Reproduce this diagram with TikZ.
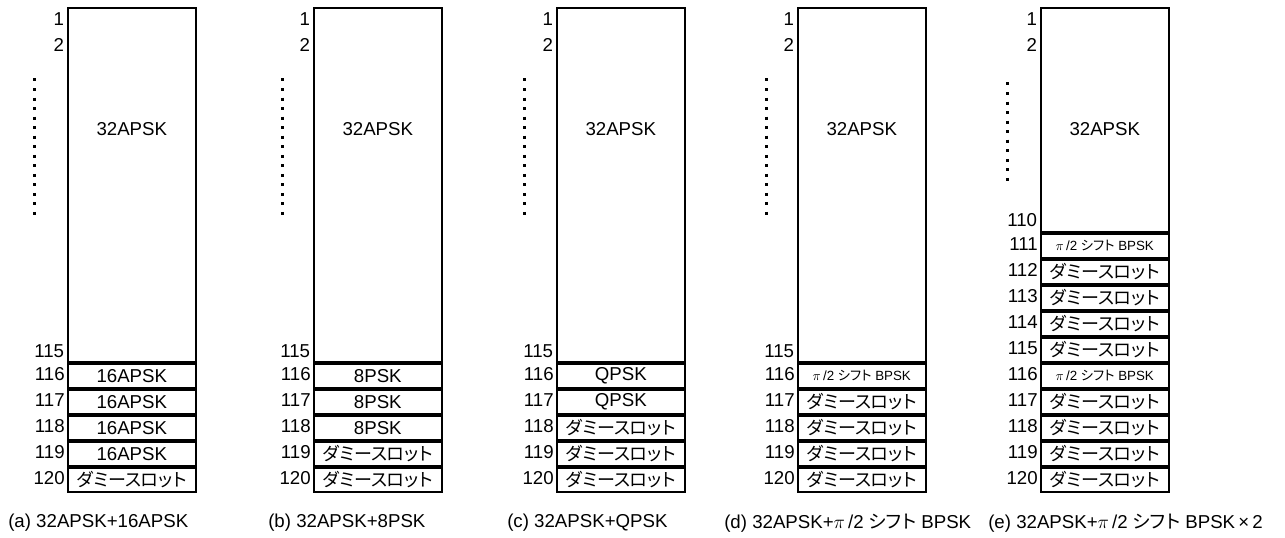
\documentclass[tikz,border=0pt]{standalone}
\usepackage{fontspec}
\setmainfont{Liberation Sans}
\newfontfamily\jp[RawFeature=+palt]{Noto Sans CJK JP}
\usetikzlibrary{positioning}
\newcommand{\dmy}{{\jp ダミースロット}}
\newcommand{\pishift}{$\pi$\,/2 {\jp シフト} BPSK}

\begin{document}
\begin{tikzpicture}[
    x=0.75pt, y=-0.75pt,
    every node/.style={inner sep=0pt, font=\fontsize{14}{16}\selectfont},
    bigbox/.style={draw, line width=1.2pt, minimum width=96pt, minimum height=265.8pt, anchor=north west},
    slot/.style={draw, line width=1.2pt, minimum width=96pt, minimum height=18.3pt},
    num/.style={anchor=east},
    dmytext/.style={font=\fontsize{13.5}{16}\selectfont},
    pitext/.style={font=\fontsize{10}{12}\selectfont},
    dots/.style={line width=2.25pt, dash pattern=on 2.25pt off 4.9pt},
    caption/.style={anchor=west, font=\fontsize{14}{16}\selectfont}
  ]
  \useasboundingbox (0,0) rectangle (1285,538);

  % (a) 32APSK+16APSK
  \node[bigbox] (a32) at (67,7) {};
  \node (a32t) at ([yshift=-91.5pt]a32.north) {32APSK};
  \node[slot, below=0pt of a32] (a116) {16APSK};
  \node[slot, below=0pt of a116] (a117) {16APSK};
  \node[slot, below=0pt of a117] (a118) {16APSK};
  \node[slot, below=0pt of a118] (a119) {16APSK};
  \node[slot, dmytext, below=0pt of a119] (a120) {\dmy};
  \node[num] (na1) at ([xshift=-2pt, yshift=-9pt]a32.north west) {1};
  \node[num] (na2) at ([xshift=-2pt, yshift=-28.5pt]a32.north west) {2};
  \node[num] (na115) at ([xshift=-2pt, yshift=9pt]a32.south west) {115};
  \node[num, left=1.5pt of a116, yshift=1.5pt] (na116) {116};
  \node[num, left=1.5pt of a117, yshift=1.5pt] (na117) {117};
  \node[num, left=1.5pt of a118, yshift=1.5pt] (na118) {118};
  \node[num, left=1.5pt of a119, yshift=1.5pt] (na119) {119};
  \node[num, left=1.5pt of a120, yshift=1.5pt] (na120) {120};
  \draw[dots] (34,78.5) -- (34,215);
  \node[caption] (capa) at (8,523) {(a) 32APSK+16APSK};

  % (b) 32APSK+8PSK
  \node[bigbox] (b32) at (313,7) {};
  \node (b32t) at ([yshift=-91.5pt]b32.north) {32APSK};
  \node[slot, below=0pt of b32] (b116) {8PSK};
  \node[slot, below=0pt of b116] (b117) {8PSK};
  \node[slot, below=0pt of b117] (b118) {8PSK};
  \node[slot, dmytext, below=0pt of b118] (b119) {\dmy};
  \node[slot, dmytext, below=0pt of b119] (b120) {\dmy};
  \node[num] (nb1) at ([xshift=-2pt, yshift=-9pt]b32.north west) {1};
  \node[num] (nb2) at ([xshift=-2pt, yshift=-28.5pt]b32.north west) {2};
  \node[num] (nb115) at ([xshift=-2pt, yshift=9pt]b32.south west) {115};
  \node[num, left=1.5pt of b116, yshift=1.5pt] (nb116) {116};
  \node[num, left=1.5pt of b117, yshift=1.5pt] (nb117) {117};
  \node[num, left=1.5pt of b118, yshift=1.5pt] (nb118) {118};
  \node[num, left=1.5pt of b119, yshift=1.5pt] (nb119) {119};
  \node[num, left=1.5pt of b120, yshift=1.5pt] (nb120) {120};
  \draw[dots] (282,78.5) -- (282,215);
  \node[caption] (capb) at (268,523) {(b) 32APSK+8PSK};

  % (c) 32APSK+QPSK
  \node[bigbox] (c32) at (556,7) {};
  \node (c32t) at ([yshift=-91.5pt]c32.north) {32APSK};
  \node[slot, below=0pt of c32] (c116) {QPSK};
  \node[slot, below=0pt of c116] (c117) {QPSK};
  \node[slot, dmytext, below=0pt of c117] (c118) {\dmy};
  \node[slot, dmytext, below=0pt of c118] (c119) {\dmy};
  \node[slot, dmytext, below=0pt of c119] (c120) {\dmy};
  \node[num] (nc1) at ([xshift=-2pt, yshift=-9pt]c32.north west) {1};
  \node[num] (nc2) at ([xshift=-2pt, yshift=-28.5pt]c32.north west) {2};
  \node[num] (nc115) at ([xshift=-2pt, yshift=9pt]c32.south west) {115};
  \node[num, left=1.5pt of c116, yshift=1.5pt] (nc116) {116};
  \node[num, left=1.5pt of c117, yshift=1.5pt] (nc117) {117};
  \node[num, left=1.5pt of c118, yshift=1.5pt] (nc118) {118};
  \node[num, left=1.5pt of c119, yshift=1.5pt] (nc119) {119};
  \node[num, left=1.5pt of c120, yshift=1.5pt] (nc120) {120};
  \draw[dots] (524,78.5) -- (524,215);
  \node[caption] (capc) at (507,523) {(c) 32APSK+QPSK};

  % (d) 32APSK+pi/2 shift BPSK
  \node[bigbox] (d32) at (797,7) {};
  \node (d32t) at ([yshift=-91.5pt]d32.north) {32APSK};
  \node[slot, pitext, below=0pt of d32] (d116) {\pishift};
  \node[slot, dmytext, below=0pt of d116] (d117) {\dmy};
  \node[slot, dmytext, below=0pt of d117] (d118) {\dmy};
  \node[slot, dmytext, below=0pt of d118] (d119) {\dmy};
  \node[slot, dmytext, below=0pt of d119] (d120) {\dmy};
  \node[num] (nd1) at ([xshift=-2pt, yshift=-9pt]d32.north west) {1};
  \node[num] (nd2) at ([xshift=-2pt, yshift=-28.5pt]d32.north west) {2};
  \node[num] (nd115) at ([xshift=-2pt, yshift=9pt]d32.south west) {115};
  \node[num, left=1.5pt of d116, yshift=1.5pt] (nd116) {116};
  \node[num, left=1.5pt of d117, yshift=1.5pt] (nd117) {117};
  \node[num, left=1.5pt of d118, yshift=1.5pt] (nd118) {118};
  \node[num, left=1.5pt of d119, yshift=1.5pt] (nd119) {119};
  \node[num, left=1.5pt of d120, yshift=1.5pt] (nd120) {120};
  \draw[dots] (766,78.5) -- (766,215);
  \node[caption] (capd) at (724,523) {(d) 32APSK+\pishift};

  % (e) 32APSK+pi/2 shift BPSK x2
  \node[bigbox, minimum height=168.3pt] (e32) at (1040,7) {};
  \node (e32t) at ([yshift=-91.5pt]e32.north) {32APSK};
  \node[slot, pitext, below=0pt of e32] (e111) {\pishift};
  \node[slot, dmytext, below=0pt of e111] (e112) {\dmy};
  \node[slot, dmytext, below=0pt of e112] (e113) {\dmy};
  \node[slot, dmytext, below=0pt of e113] (e114) {\dmy};
  \node[slot, dmytext, below=0pt of e114] (e115) {\dmy};
  \node[slot, pitext, below=0pt of e115] (e116) {\pishift};
  \node[slot, dmytext, below=0pt of e116] (e117) {\dmy};
  \node[slot, dmytext, below=0pt of e117] (e118) {\dmy};
  \node[slot, dmytext, below=0pt of e118] (e119) {\dmy};
  \node[slot, dmytext, below=0pt of e119] (e120) {\dmy};
  \node[num] (ne1) at ([xshift=-2pt, yshift=-9pt]e32.north west) {1};
  \node[num] (ne2) at ([xshift=-2pt, yshift=-28.5pt]e32.north west) {2};
  \node[num] (ne110) at ([xshift=-2pt, yshift=10pt]e32.south west) {110};
  \node[num, left=1.5pt of e111, yshift=1.5pt] (ne111) {111};
  \node[num, left=1.5pt of e112, yshift=1.5pt] (ne112) {112};
  \node[num, left=1.5pt of e113, yshift=1.5pt] (ne113) {113};
  \node[num, left=1.5pt of e114, yshift=1.5pt] (ne114) {114};
  \node[num, left=1.5pt of e115, yshift=1.5pt] (ne115) {115};
  \node[num, left=1.5pt of e116, yshift=1.5pt] (ne116) {116};
  \node[num, left=1.5pt of e117, yshift=1.5pt] (ne117) {117};
  \node[num, left=1.5pt of e118, yshift=1.5pt] (ne118) {118};
  \node[num, left=1.5pt of e119, yshift=1.5pt] (ne119) {119};
  \node[num, left=1.5pt of e120, yshift=1.5pt] (ne120) {120};
  \draw[dots] (1007,82.5) -- (1007,182);
  \node[caption] (cape) at (988,523) {(e) 32APSK+\pishift\,×\,2};
\end{tikzpicture}
\end{document}
